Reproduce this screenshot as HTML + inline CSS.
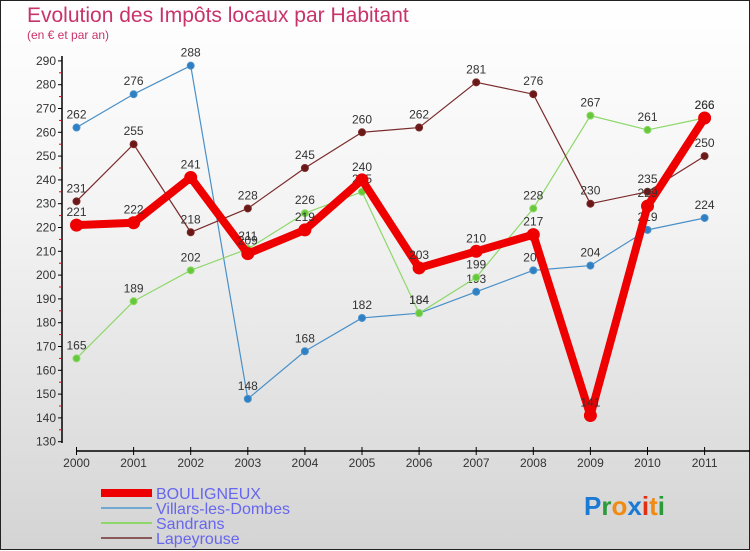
<!DOCTYPE html>
<html><head><meta charset="utf-8"><style>
body{margin:0;width:750px;height:550px;overflow:hidden;font-family:"Liberation Sans",sans-serif}
#wrap{position:relative;width:748px;height:548px;border:1px solid #222;background:linear-gradient(#ffffff,#f3f3f3 40%,#d4d4d4)}
.t{position:absolute;color:#c8336a}
</style></head><body>
<div id="wrap">
<div class="t" style="left:26px;top:3px;font-size:21px">Evolution des Impôts locaux par Habitant</div>
<div class="t" style="left:26px;top:27px;font-size:12px">(en € et par an)</div>
<svg id="svg" width="750" height="550" style="position:absolute;left:0;top:0"></svg>
</div>
<script>
const years=["2000","2001","2002","2003","2004","2005","2006","2007","2008","2009","2010","2011"];
const yTicks=[130,140,150,160,170,180,190,200,210,220,230,240,250,260,270,280,290];
const bouligneux=[221,222,241,209,219,240,203,210,217,141,229,266];
const villars=[262,276,288,148,168,182,184,193,202,204,219,224];
const sandrans=[165,189,202,211,226,235,184,199,228,267,261,266];
const lapeyrouse=[231,255,218,228,245,260,262,281,276,230,235,250];
const NS="http://www.w3.org/2000/svg";
const svg=document.getElementById('svg');
const X=i=>75.5+i*57.1;
const Y=v=>440.7-(v-130)*2.38;
function el(t,a,p){const e=document.createElementNS(NS,t);for(const k in a)e.setAttribute(k,a[k]);(p||svg).appendChild(e);return e;}
// y axis
let ax=el('line',{x1:61,y1:55,x2:61,y2:442,stroke:'#000','stroke-width':1.5});


yTicks.forEach((v,i)=>{
  el('line',{x1:57,x2:61,y1:Y(v),y2:Y(v),stroke:'#000'});
  if(i<yTicks.length-1) el('line',{x1:58,x2:61,y1:Y(v+5),y2:Y(v+5),stroke:'#e00'});
  const t=el('text',{x:55,y:Y(v)+4,'text-anchor':'end','font-size':12,fill:'#333'});
  t.textContent=v;
  
  
});
let xa=el('line',{x1:75,y1:450,x2:750,y2:450,stroke:'#000','stroke-width':1.5});


years.forEach((y,i)=>{
  el('line',{x1:X(i),x2:X(i),y1:446,y2:454,stroke:'#000'});
  const t=el('text',{x:X(i),y:466,'text-anchor':'middle','font-size':12,fill:'#333'});
  t.textContent=y;
  
  
});
function series(data,color,w,r,ptFill,name){
  const g=el('g',{});
  
  
  el('polyline',{points:data.map((v,i)=>X(i)+','+Y(v)).join(' '),fill:'none',stroke:color,'stroke-width':w,'stroke-linejoin':'round'},g);
  data.forEach((v,i)=>{
    const c=el('circle',{cx:X(i),cy:Y(v),r:r,fill:ptFill,stroke:color,'stroke-width':1},g);
    
    
    const t=el('text',{x:X(i),y:Y(v)-9,'text-anchor':'middle','font-size':12,fill:'#333'},g);
    t.textContent=v;
    
    
  });
}
series(villars,'#4a90c8',1.2,3.5,'#2e7fc4','villars-series');
series(sandrans,'#8ed86a',1.2,3.5,'#66c83a','sandrans-series');
series(lapeyrouse,'#7a2a2a',1.2,3.5,'#6b1818','lapeyrouse-series');
series(bouligneux,'#ee0000',8,6,'#ee0000','bouligneux-series');
// legend
const leg=[['BOULIGNEUX','#ee0000',8],['Villars-les-Dombes','#6fa8d0',2],['Sandrans','#8ed86a',2],['Lapeyrouse','#8a5a5a',2]];
leg.forEach((l,i)=>{
  const y=492+i*15;
  const g=el('g',{});
  
  
  el('line',{x1:100,x2:151,y1:y,y2:y,stroke:l[1],'stroke-width':l[2]},g);
  const t=el('text',{x:155,y:y+6,'font-size':16,fill:'#6666ee'},g);
  t.textContent=l[0];
});
// logo
const logo=el('text',{x:583,y:514,'font-size':26,'font-weight':'bold'});


[['P','#1a7ad4'],['r','#2a9a3a'],['o','#f08a10'],['x','#1a7ad4'],['i','#e03010'],['t','#f08a10'],['i','#2a9a3a']].forEach(p=>{
  const s=el('tspan',{fill:p[1]},logo);s.textContent=p[0];
});
</script>
</body></html>
